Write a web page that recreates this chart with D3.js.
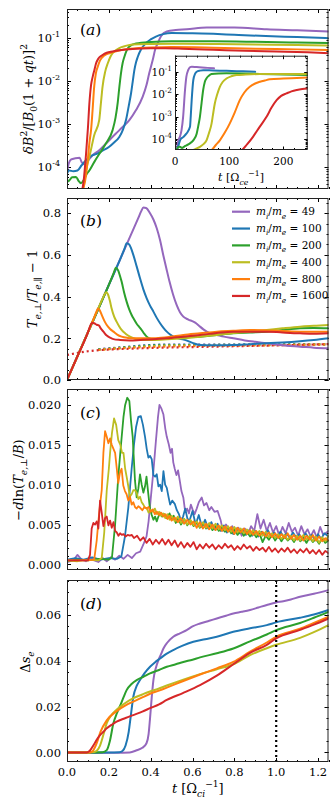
<!DOCTYPE html>
<html><head><meta charset="utf-8">
<script src="https://cdn.jsdelivr.net/npm/d3@7"></script>
<style>html,body{margin:0;padding:0;background:#fff}svg{display:block}</style>
</head><body>
<script>
// ---------------- DATA ----------------
const seriesNames = ["49","100","200","400","800","1600"];
const seriesColors = ["#9467bd","#1f77b4","#2ca02c","#bcbd22","#ff7f0e","#d62728"];
const xTickLabels = ["0.0","0.2","0.4","0.6","0.8","1.0","1.2"];
const markerT = 1.0;

// panel (a): deltaB^2 vs t [Omega_ci^-1]
const a_49 = [[0,8e-5],[0.008,1.2e-4],[0.02,1.5e-4],[0.04,1.6e-4],[0.06,1.65e-4],[0.07,1.3e-4],[0.085,1.15e-4],[0.1,1.4e-4],[0.123,1.9e-4],[0.154,2.45e-4],[0.186,3.5e-4],[0.21,4.6e-4],[0.234,6.0e-4],[0.266,8.5e-4],[0.298,1.23e-3],[0.33,2.1e-3],[0.362,4.3e-3],[0.38,8e-3],[0.393,0.015],[0.41,0.031],[0.422,0.055],[0.434,0.076],[0.45,0.11],[0.477,0.141],[0.52,0.152],[0.572,0.158],[0.668,0.174],[0.8,0.174],[0.955,0.158],[1.1,0.150],[1.25,0.141]];
const a_100 = [[0,7e-5],[0.01,8.3e-5],[0.03,8e-5],[0.05,8.3e-5],[0.07,1.1e-4],[0.091,1.45e-4],[0.115,1.8e-4],[0.139,2.0e-4],[0.17,2.4e-4],[0.202,2.95e-4],[0.225,3.7e-4],[0.25,5e-4],[0.268,7.5e-4],[0.282,1.23e-3],[0.295,2.6e-3],[0.306,5.1e-3],[0.314,0.0095],[0.322,0.0178],[0.33,0.027],[0.338,0.036],[0.355,0.055],[0.378,0.076],[0.4,0.092],[0.425,0.107],[0.46,0.122],[0.5,0.129],[0.6,0.128],[0.7,0.124],[0.8,0.118],[0.95,0.110],[1.1,0.104],[1.25,0.098]];
const a_200 = [[0,4.5e-5],[0.011,4.9e-5],[0.025,5.8e-5],[0.043,5.9e-5],[0.055,4.8e-5],[0.067,4.2e-5],[0.08,5e-5],[0.095,7e-5],[0.107,8.3e-5],[0.13,1.3e-4],[0.154,2.0e-4],[0.186,3.5e-4],[0.218,7.2e-4],[0.232,1.4e-3],[0.242,3.0e-3],[0.25,7e-3],[0.258,0.015],[0.266,0.026],[0.274,0.036],[0.286,0.052],[0.298,0.063],[0.33,0.074],[0.4,0.080],[0.5,0.083],[0.7,0.083],[0.9,0.081],[1.1,0.078],[1.25,0.076]];
const a_400 = [[0.06,2.6e-5],[0.075,3e-5],[0.09,8e-5],[0.11,2.0e-4],[0.13,5.5e-4],[0.154,1.23e-3],[0.162,3e-3],[0.17,7.4e-3],[0.182,0.016],[0.195,0.0257],[0.207,0.036],[0.218,0.044],[0.235,0.052],[0.25,0.058],[0.28,0.065],[0.314,0.070],[0.4,0.072],[0.5,0.073],[0.7,0.072],[0.9,0.070],[1.1,0.068],[1.25,0.066]];
const a_800 = [[0.07,2.5e-5],[0.09,6e-5],[0.1,1.6e-4],[0.108,4e-4],[0.115,7.2e-4],[0.122,2.0e-3],[0.13,7.4e-3],[0.138,0.015],[0.147,0.0214],[0.158,0.030],[0.17,0.036],[0.185,0.041],[0.202,0.044],[0.25,0.051],[0.3,0.056],[0.4,0.060],[0.5,0.061],[0.7,0.059],[0.9,0.056],[1.1,0.054],[1.25,0.052]];
const a_1600 = [[0.07,2.5e-5],[0.08,5e-5],[0.091,2.0e-4],[0.1,8e-4],[0.107,3.0e-3],[0.115,8e-3],[0.123,0.0126],[0.131,0.018],[0.139,0.0257],[0.15,0.033],[0.17,0.040],[0.19,0.045],[0.218,0.048],[0.26,0.052],[0.314,0.055],[0.4,0.057],[0.47,0.057],[0.55,0.056],[0.7,0.053],[0.85,0.050],[1.0,0.048],[1.15,0.046],[1.25,0.044]];

// inset: deltaB^2 vs t [Omega_ce^-1]
const i_49 = [[0,3.3e-5],[3,3.5e-5],[6,9e-5],[9,1.3e-4],[12,2.5e-4],[15,1e-3],[18.5,0.0155],[21,0.06],[24.5,0.12],[28,0.16],[31,0.166],[40,0.16],[50,0.155],[60,0.148],[72,0.141]];
const i_100 = [[3,3.3e-5],[6,5e-5],[10,1e-4],[15,1.26e-4],[21,1.8e-4],[27.7,3.6e-4],[29,1e-3],[30.8,5.5e-3],[33.8,0.043],[37,0.08],[40,0.1],[46,0.112],[52,0.117],[70,0.113],[95,0.11],[120,0.105],[148,0.1]];
const i_200 = [[1,3.3e-5],[3,3.5e-5],[6,4.5e-5],[9,4.7e-5],[13,4.2e-5],[17,4.8e-5],[21.5,5.5e-5],[27,6.5e-5],[33.8,9.1e-5],[40,1.8e-4],[43,4e-4],[46,1e-3],[49,4e-3],[52,0.0155],[55,0.035],[58,0.05],[62,0.065],[67.5,0.079],[80,0.084],[95,0.085],[125,0.083],[157,0.079],[200,0.075],[245,0.071]];
const i_400 = [[28,3.3e-5],[31,3.3e-5],[40,4e-5],[46,4.7e-5],[52,6e-5],[58.2,9.1e-5],[63,2e-4],[67.5,5e-4],[70,1.2e-3],[73.6,4e-3],[78,0.01],[82.8,0.0214],[88,0.035],[95,0.05],[104,0.063],[113.5,0.071],[130,0.075],[157,0.079],[200,0.080],[245,0.079]];
const i_800 = [[65,3.0e-5],[67.5,3.3e-5],[75,5.5e-5],[82.8,9.1e-5],[92,2e-4],[101,5e-4],[110,1.5e-3],[119.6,5.5e-3],[128,0.012],[138,0.0214],[148,0.030],[157,0.036],[166,0.041],[175,0.046],[200,0.050],[225,0.053],[245,0.056]];
const i_1600 = [[120,3.0e-5],[123,3.3e-5],[133,6e-5],[144,1.3e-4],[156,3.5e-4],[169,1e-3],[178,2.5e-3],[187.6,5.5e-3],[196,8.5e-3],[206,0.011],[215,0.0135],[225,0.0155],[235,0.017],[245,0.018]];

// panel (b): anisotropy (solid) and threshold (dotted)
const b_49 = [[0,0],[0.1,0.228],[0.2,0.456],[0.3,0.684],[0.34,0.775],[0.355,0.81],[0.365,0.827],[0.378,0.825],[0.397,0.80],[0.413,0.77],[0.429,0.728],[0.445,0.67],[0.46,0.60],[0.475,0.535],[0.49,0.472],[0.507,0.41],[0.524,0.36],[0.54,0.325],[0.556,0.304],[0.58,0.29],[0.604,0.28],[0.62,0.27],[0.636,0.256],[0.652,0.243],[0.668,0.232],[0.69,0.222],[0.716,0.216],[0.75,0.208],[0.795,0.20],[0.85,0.19],[0.9,0.183],[0.955,0.176],[1.0,0.17],[1.05,0.164],[1.114,0.16],[1.18,0.155],[1.25,0.152]];
const b_100 = [[0,0],[0.1,0.228],[0.2,0.456],[0.26,0.593],[0.275,0.63],[0.285,0.656],[0.295,0.652],[0.305,0.635],[0.317,0.60],[0.333,0.545],[0.349,0.488],[0.365,0.435],[0.381,0.392],[0.397,0.357],[0.413,0.328],[0.429,0.298],[0.445,0.272],[0.461,0.25],[0.477,0.232],[0.493,0.218],[0.508,0.208],[0.54,0.198],[0.57,0.19],[0.6,0.178],[0.636,0.168],[0.7,0.167],[0.795,0.168],[0.875,0.172],[0.955,0.176],[1.03,0.18],[1.114,0.186],[1.18,0.192],[1.25,0.20]];
const b_200 = [[0,0],[0.1,0.228],[0.2,0.456],[0.222,0.51],[0.234,0.539],[0.245,0.525],[0.253,0.50],[0.261,0.472],[0.273,0.42],[0.285,0.376],[0.297,0.34],[0.309,0.312],[0.321,0.29],[0.333,0.27],[0.345,0.255],[0.357,0.24],[0.369,0.222],[0.381,0.208],[0.397,0.198],[0.413,0.194],[0.445,0.198],[0.477,0.20],[0.55,0.204],[0.636,0.208],[0.716,0.216],[0.795,0.224],[0.875,0.228],[0.955,0.232],[1.03,0.24],[1.114,0.248],[1.18,0.25],[1.25,0.248]];
const b_400 = [[0,0],[0.1,0.228],[0.17,0.39],[0.18,0.412],[0.188,0.421],[0.196,0.41],[0.205,0.38],[0.213,0.344],[0.225,0.305],[0.237,0.28],[0.249,0.258],[0.261,0.24],[0.28,0.222],[0.301,0.208],[0.325,0.198],[0.35,0.192],[0.413,0.192],[0.48,0.195],[0.556,0.20],[0.636,0.208],[0.716,0.216],[0.795,0.225],[0.875,0.232],[0.955,0.24],[1.03,0.248],[1.114,0.256],[1.18,0.26],[1.25,0.264]];
const b_800 = [[0,0],[0.1,0.228],[0.13,0.30],[0.14,0.325],[0.148,0.343],[0.156,0.335],[0.166,0.312],[0.178,0.285],[0.19,0.264],[0.206,0.245],[0.222,0.232],[0.24,0.218],[0.261,0.208],[0.29,0.202],[0.317,0.20],[0.413,0.20],[0.477,0.205],[0.556,0.216],[0.636,0.224],[0.716,0.232],[0.795,0.236],[0.875,0.24],[0.955,0.238],[1.03,0.235],[1.114,0.232],[1.18,0.232],[1.25,0.232]];
const b_1600 = [[0,0],[0.05,0.114],[0.1,0.228],[0.112,0.262],[0.12,0.275],[0.13,0.272],[0.142,0.265],[0.152,0.262],[0.163,0.245],[0.174,0.232],[0.19,0.213],[0.206,0.203],[0.222,0.196],[0.254,0.192],[0.3,0.19],[0.35,0.192],[0.413,0.195],[0.477,0.20],[0.556,0.208],[0.636,0.216],[0.716,0.225],[0.795,0.232],[0.875,0.232],[0.955,0.232],[1.03,0.228],[1.114,0.224],[1.18,0.222],[1.25,0.224]];
const bd_49 = [[0.15,0.148],[0.2,0.152],[0.3,0.16],[0.4,0.168],[0.5,0.17],[0.7,0.17],[1.0,0.17],[1.25,0.172]];
const bd_100 = [[0.15,0.147],[0.2,0.151],[0.3,0.159],[0.4,0.167],[0.5,0.169],[0.7,0.169],[1.0,0.17],[1.25,0.172]];
const bd_200 = [[0.15,0.146],[0.2,0.15],[0.3,0.158],[0.4,0.165],[0.5,0.167],[0.7,0.168],[1.0,0.169],[1.25,0.171]];
const bd_400 = [[0.15,0.145],[0.2,0.149],[0.3,0.156],[0.4,0.162],[0.5,0.165],[0.7,0.166],[1.0,0.168],[1.25,0.171]];
const bd_800 = [[0.15,0.144],[0.2,0.148],[0.3,0.154],[0.4,0.158],[0.5,0.161],[0.7,0.164],[1.0,0.167],[1.25,0.171]];
const bd_1600 = [[0,0.12],[0.1,0.138],[0.2,0.146],[0.3,0.150],[0.45,0.155],[0.6,0.158],[0.8,0.162],[1.0,0.166],[1.25,0.172]];

// panel (c): -dln(T_perp/B)
const c_49 = [[0,0.0003],[0.03,0.0005],[0.05,0.0012],[0.07,0.0006],[0.09,0.0004],[0.11,0.0009],[0.13,0.0005],[0.15,0.0003],[0.17,0.0008],[0.19,0.0004],[0.21,0.0009],[0.23,0.0006],[0.25,0.0011],[0.27,0.0007],[0.29,0.0012],[0.31,0.0008],[0.33,0.0014],[0.35,0.0016],[0.365,0.0025],[0.38,0.0035],[0.39,0.0054],[0.403,0.009],[0.413,0.0117],[0.425,0.0155],[0.435,0.0185],[0.442,0.0200],[0.452,0.0195],[0.461,0.0188],[0.47,0.017],[0.477,0.016],[0.487,0.015],[0.495,0.014],[0.502,0.0145],[0.508,0.0128],[0.515,0.012],[0.523,0.0112],[0.531,0.0118],[0.539,0.0105],[0.547,0.0092],[0.556,0.0084],[0.565,0.0066],[0.574,0.007],[0.583,0.0064],[0.592,0.0075],[0.6,0.0069],[0.61,0.0063],[0.62,0.007],[0.63,0.0078],[0.644,0.0084],[0.655,0.0074],[0.667,0.0077],[0.68,0.0068],[0.69,0.0072],[0.705,0.0066],[0.72,0.0067],[0.735,0.0055],[0.745,0.0042],[0.76,0.005],[0.775,0.0044],[0.79,0.0048],[0.805,0.004],[0.82,0.0046],[0.835,0.0036],[0.85,0.0045],[0.865,0.0038],[0.88,0.0048],[0.895,0.0042],[0.91,0.0063],[0.925,0.0045],[0.94,0.0056],[0.955,0.0042],[0.97,0.0052],[0.985,0.004],[1.0,0.0048],[1.015,0.0036],[1.03,0.0047],[1.045,0.0039],[1.06,0.0052],[1.075,0.0041],[1.09,0.0046],[1.105,0.0036],[1.12,0.0048],[1.135,0.0038],[1.15,0.0044],[1.165,0.0035],[1.18,0.0043],[1.195,0.0033],[1.21,0.0047],[1.225,0.0037],[1.25,0.0042]];
const c_100 = [[0,0.0006],[0.04,0.0008],[0.08,0.0006],[0.12,0.0009],[0.16,0.0006],[0.2,0.0008],[0.24,0.0007],[0.26,0.001],[0.277,0.0035],[0.293,0.0071],[0.309,0.012],[0.32,0.015],[0.33,0.0172],[0.341,0.0185],[0.353,0.0186],[0.363,0.0175],[0.373,0.016],[0.381,0.0145],[0.389,0.0134],[0.397,0.0136],[0.405,0.0132],[0.413,0.0112],[0.421,0.011],[0.429,0.0113],[0.437,0.0098],[0.445,0.01],[0.453,0.0092],[0.461,0.0117],[0.469,0.01],[0.477,0.0096],[0.485,0.0085],[0.493,0.0075],[0.503,0.008],[0.515,0.0076],[0.525,0.0068],[0.535,0.0063],[0.545,0.0055],[0.555,0.006],[0.565,0.007],[0.575,0.0058],[0.585,0.0054],[0.6,0.0067],[0.615,0.005],[0.63,0.0062],[0.645,0.0047],[0.66,0.0056],[0.675,0.0045],[0.69,0.0053],[0.705,0.0044],[0.72,0.0051],[0.735,0.0042],[0.75,0.0049],[0.765,0.004],[0.78,0.0046],[0.795,0.0038],[0.81,0.0045],[0.825,0.0039],[0.84,0.0044],[0.855,0.0037],[0.87,0.0043],[0.885,0.0036],[0.9,0.0042],[0.915,0.0035],[0.93,0.0041],[0.945,0.0036],[0.96,0.0043],[0.975,0.0035],[0.99,0.004],[1.005,0.0034],[1.02,0.0041],[1.035,0.0035],[1.05,0.0039],[1.065,0.0033],[1.08,0.004],[1.095,0.0034],[1.11,0.0038],[1.125,0.0032],[1.14,0.0039],[1.155,0.0033],[1.17,0.0037],[1.185,0.0031],[1.2,0.0038],[1.215,0.0032],[1.23,0.0039],[1.25,0.0035]];
const c_200 = [[0,0.0004],[0.05,0.0006],[0.1,0.0005],[0.15,0.0007],[0.2,0.0006],[0.215,0.0009],[0.23,0.005],[0.245,0.011],[0.258,0.015],[0.27,0.0185],[0.278,0.02],[0.288,0.0209],[0.298,0.0205],[0.306,0.018],[0.314,0.016],[0.32,0.013],[0.325,0.0105],[0.333,0.0084],[0.341,0.0095],[0.349,0.0113],[0.357,0.01],[0.365,0.009],[0.373,0.0098],[0.38,0.011],[0.388,0.009],[0.396,0.0071],[0.405,0.0062],[0.413,0.0056],[0.421,0.006],[0.429,0.0054],[0.437,0.006],[0.445,0.0065],[0.455,0.006],[0.465,0.0063],[0.477,0.0058],[0.49,0.0064],[0.5,0.0056],[0.51,0.0061],[0.52,0.0052],[0.53,0.0058],[0.545,0.005],[0.56,0.0057],[0.575,0.0049],[0.59,0.0055],[0.605,0.0048],[0.62,0.0053],[0.635,0.0046],[0.65,0.0052],[0.665,0.0045],[0.68,0.005],[0.695,0.0043],[0.71,0.0049],[0.725,0.0042],[0.74,0.0047],[0.755,0.0041],[0.77,0.0046],[0.785,0.0039],[0.8,0.0044],[0.815,0.0037],[0.83,0.0043],[0.845,0.0036],[0.86,0.0041],[0.875,0.0035],[0.89,0.004],[0.905,0.0034],[0.92,0.0039],[0.935,0.0028],[0.95,0.0036],[0.965,0.0031],[0.98,0.0037],[0.995,0.003],[1.01,0.0036],[1.025,0.0029],[1.04,0.0035],[1.055,0.003],[1.07,0.0034],[1.085,0.0028],[1.1,0.0035],[1.115,0.0029],[1.13,0.0033],[1.145,0.0027],[1.16,0.0034],[1.175,0.0028],[1.19,0.0032],[1.205,0.0026],[1.22,0.0033],[1.235,0.0027],[1.25,0.003]];
const c_400 = [[0,0.0005],[0.05,0.0004],[0.1,0.0006],[0.15,0.0005],[0.166,0.0008],[0.178,0.004],[0.19,0.0093],[0.2,0.012],[0.206,0.014],[0.215,0.0165],[0.225,0.0183],[0.235,0.0175],[0.245,0.0156],[0.255,0.015],[0.263,0.014],[0.27,0.014],[0.278,0.012],[0.285,0.011],[0.293,0.0098],[0.3,0.0085],[0.309,0.0088],[0.317,0.0093],[0.325,0.0093],[0.333,0.009],[0.341,0.0082],[0.349,0.0085],[0.357,0.0078],[0.365,0.0075],[0.373,0.0071],[0.381,0.0071],[0.39,0.0065],[0.4,0.0068],[0.41,0.0066],[0.42,0.007],[0.43,0.0063],[0.44,0.0066],[0.45,0.0061],[0.46,0.0064],[0.47,0.0058],[0.48,0.0063],[0.49,0.0056],[0.5,0.0061],[0.515,0.0054],[0.53,0.006],[0.545,0.0052],[0.56,0.0057],[0.575,0.005],[0.59,0.0056],[0.605,0.0049],[0.62,0.0054],[0.635,0.0047],[0.65,0.0053],[0.665,0.0046],[0.68,0.0052],[0.695,0.0045],[0.71,0.0051],[0.725,0.0044],[0.74,0.0049],[0.755,0.0043],[0.77,0.0048],[0.785,0.0041],[0.8,0.0047],[0.815,0.004],[0.83,0.0045],[0.845,0.0039],[0.86,0.0044],[0.875,0.0038],[0.89,0.0043],[0.905,0.0037],[0.92,0.0042],[0.935,0.0036],[0.95,0.0041],[0.965,0.0034],[0.98,0.0039],[0.995,0.0033],[1.01,0.0038],[1.025,0.0032],[1.04,0.0037],[1.055,0.0031],[1.07,0.0036],[1.085,0.003],[1.1,0.0036],[1.115,0.003],[1.13,0.0037],[1.145,0.0031],[1.16,0.0036],[1.175,0.0029],[1.19,0.0035],[1.205,0.0027],[1.22,0.0034],[1.235,0.0029],[1.25,0.0036]];
const c_800 = [[0,0.0005],[0.05,0.0005],[0.1,0.0005],[0.13,0.0006],[0.142,0.003],[0.15,0.0054],[0.158,0.0075],[0.166,0.0093],[0.174,0.014],[0.182,0.0167],[0.19,0.016],[0.198,0.0152],[0.206,0.0158],[0.214,0.015],[0.222,0.0145],[0.23,0.014],[0.238,0.012],[0.245,0.0102],[0.253,0.0115],[0.261,0.012],[0.269,0.0099],[0.277,0.0092],[0.285,0.0088],[0.293,0.008],[0.301,0.0085],[0.309,0.0075],[0.317,0.0078],[0.325,0.0072],[0.333,0.007],[0.341,0.0073],[0.35,0.0071],[0.36,0.0068],[0.37,0.0072],[0.38,0.007],[0.39,0.0072],[0.4,0.0066],[0.41,0.0069],[0.42,0.0063],[0.43,0.0066],[0.44,0.0062],[0.45,0.0065],[0.46,0.006],[0.47,0.0063],[0.48,0.0057],[0.49,0.0061],[0.5,0.0055],[0.515,0.0059],[0.53,0.0053],[0.545,0.0058],[0.56,0.0051],[0.575,0.0056],[0.59,0.005],[0.605,0.0054],[0.62,0.0046],[0.635,0.0053],[0.65,0.0045],[0.665,0.0051],[0.68,0.0044],[0.695,0.005],[0.71,0.0043],[0.725,0.0049],[0.74,0.0042],[0.755,0.0048],[0.77,0.0041],[0.785,0.0047],[0.8,0.0038],[0.815,0.0046],[0.83,0.004],[0.845,0.0045],[0.86,0.0038],[0.875,0.0043],[0.89,0.0037],[0.905,0.0042],[0.92,0.0036],[0.935,0.0041],[0.95,0.0035],[0.965,0.004],[0.98,0.0034],[0.995,0.0039],[1.01,0.0033],[1.025,0.0038],[1.04,0.0033],[1.055,0.0039],[1.07,0.0032],[1.085,0.0037],[1.1,0.0031],[1.115,0.0036],[1.13,0.003],[1.145,0.0036],[1.16,0.0031],[1.175,0.0037],[1.19,0.003],[1.205,0.0035],[1.22,0.0029],[1.235,0.0033],[1.25,0.003]];
const c_1600 = [[0,0.0005],[0.05,0.0005],[0.1,0.0005],[0.11,0.0012],[0.118,0.0045],[0.126,0.0052],[0.134,0.005],[0.142,0.0054],[0.15,0.0045],[0.158,0.008],[0.166,0.0065],[0.174,0.0048],[0.182,0.0058],[0.19,0.006],[0.198,0.0049],[0.206,0.0055],[0.214,0.0046],[0.222,0.0053],[0.23,0.0042],[0.238,0.004],[0.246,0.0036],[0.254,0.0039],[0.262,0.0037],[0.27,0.0038],[0.28,0.0035],[0.29,0.0037],[0.3,0.0036],[0.31,0.0037],[0.32,0.0033],[0.335,0.0036],[0.35,0.003],[0.365,0.0034],[0.38,0.0027],[0.395,0.0032],[0.41,0.0025],[0.425,0.0031],[0.44,0.0026],[0.455,0.0032],[0.47,0.0025],[0.485,0.0031],[0.5,0.0024],[0.515,0.003],[0.53,0.0022],[0.545,0.0028],[0.56,0.0021],[0.575,0.0027],[0.59,0.0022],[0.605,0.0028],[0.62,0.0019],[0.635,0.0025],[0.65,0.002],[0.665,0.0026],[0.68,0.0021],[0.695,0.0025],[0.71,0.0019],[0.725,0.0024],[0.74,0.002],[0.755,0.0026],[0.77,0.0021],[0.785,0.0024],[0.8,0.0018],[0.815,0.0023],[0.83,0.0019],[0.845,0.0025],[0.86,0.002],[0.875,0.0023],[0.89,0.0017],[0.905,0.0022],[0.92,0.0018],[0.935,0.0021],[0.95,0.0016],[0.965,0.0022],[0.98,0.0016],[0.995,0.002],[1.01,0.0015],[1.025,0.002],[1.04,0.0016],[1.055,0.0021],[1.07,0.0015],[1.085,0.0019],[1.1,0.0014],[1.115,0.0019],[1.13,0.0015],[1.145,0.002],[1.16,0.0014],[1.175,0.0018],[1.19,0.0013],[1.205,0.0018],[1.22,0.0012],[1.235,0.0017],[1.25,0.0014]];

// panel (d): entropy change
const d_49 = [[0,-0.0003],[0.1,-0.0003],[0.2,-0.0002],[0.3,0.0],[0.33,0.0008],[0.36,0.002],[0.38,0.004],[0.39,0.008],[0.397,0.015],[0.405,0.024],[0.413,0.0316],[0.425,0.037],[0.437,0.0403],[0.45,0.043],[0.461,0.0454],[0.48,0.048],[0.508,0.0505],[0.54,0.052],[0.572,0.0534],[0.6,0.055],[0.636,0.0563],[0.68,0.0575],[0.716,0.0585],[0.76,0.0597],[0.795,0.0607],[0.835,0.0614],[0.875,0.0622],[0.915,0.0633],[0.955,0.0644],[1.0,0.0655],[1.034,0.066],[1.07,0.0668],[1.114,0.068],[1.18,0.0693],[1.25,0.0709]];
const d_100 = [[0,0],[0.1,0],[0.2,0],[0.25,0.0001],[0.265,0.0006],[0.28,0.003],[0.295,0.009],[0.305,0.016],[0.317,0.0243],[0.333,0.029],[0.349,0.0316],[0.37,0.0345],[0.397,0.0374],[0.42,0.0393],[0.445,0.041],[0.475,0.043],[0.508,0.0447],[0.55,0.0465],[0.604,0.0483],[0.66,0.0494],[0.716,0.0505],[0.795,0.0527],[0.875,0.0542],[0.955,0.0556],[1.0,0.0568],[1.114,0.0588],[1.18,0.0602],[1.25,0.0622]];
const d_200 = [[0,0],[0.1,0],[0.17,0.0001],[0.19,0.001],[0.205,0.005],[0.222,0.0128],[0.238,0.017],[0.254,0.0204],[0.27,0.024],[0.285,0.0272],[0.31,0.03],[0.333,0.0316],[0.365,0.033],[0.397,0.0345],[0.44,0.036],[0.477,0.0374],[0.52,0.0385],[0.556,0.0395],[0.6,0.0405],[0.636,0.0415],[0.716,0.0433],[0.795,0.0454],[0.875,0.0485],[0.955,0.0515],[1.0,0.0534],[1.114,0.0565],[1.18,0.0588],[1.25,0.0614]];
const d_400 = [[0,0],[0.1,0],[0.13,0.0002],[0.145,0.001],[0.158,0.003],[0.175,0.008],[0.19,0.0128],[0.21,0.016],[0.237,0.0186],[0.27,0.021],[0.317,0.0237],[0.36,0.0253],[0.397,0.0266],[0.44,0.0279],[0.477,0.0292],[0.556,0.0318],[0.636,0.0342],[0.716,0.0363],[0.795,0.0385],[0.875,0.0425],[0.955,0.0455],[1.0,0.047],[1.114,0.050],[1.18,0.0525],[1.25,0.0556]];
const d_800 = [[0,0],[0.11,0],[0.125,0.0008],[0.142,0.004],[0.16,0.009],[0.19,0.014],[0.237,0.018],[0.28,0.0205],[0.317,0.0222],[0.36,0.024],[0.397,0.0256],[0.44,0.027],[0.477,0.0283],[0.556,0.0312],[0.636,0.034],[0.716,0.0367],[0.795,0.0395],[0.875,0.044],[0.955,0.048],[1.0,0.0505],[1.114,0.054],[1.18,0.0565],[1.25,0.0592]];
const d_1600 = [[0,0],[0.095,0],[0.11,0.0008],[0.126,0.003],[0.142,0.0055],[0.158,0.0075],[0.174,0.009],[0.19,0.0105],[0.213,0.012],[0.237,0.0134],[0.28,0.015],[0.317,0.0163],[0.36,0.0178],[0.397,0.0193],[0.44,0.021],[0.477,0.0229],[0.556,0.026],[0.636,0.0294],[0.716,0.0335],[0.795,0.0385],[0.875,0.0435],[0.955,0.047],[1.0,0.0498],[1.114,0.0535],[1.18,0.0558],[1.25,0.0585]];

const panelA = [a_49,a_100,a_200,a_400,a_800,a_1600];
const inset = [i_49,i_100,i_200,i_400,i_800,i_1600];
const panelB = [b_49,b_100,b_200,b_400,b_800,b_1600];
const panelBdot = [bd_49,bd_100,bd_200,bd_400,bd_800,bd_1600];
const panelC = [c_49,c_100,c_200,c_400,c_800,c_1600];
const panelD = [d_49,d_100,d_200,d_400,d_800,d_1600];

// ---------------- DRAW ----------------
const W = 332, H = 802;
const FONT = "'DejaVu Serif', 'Liberation Serif', serif";
const TFS = 11.5;
const svg = d3.select("body").append("svg").attr("width", W).attr("height", H)
  .style("font-family", FONT);
const defs = svg.append("defs");

const X0 = 67, X1 = 328.5;
const x = d3.scaleLinear().domain([0, 1.25]).range([X0, X1]);

function rich(text, parts, fs) {
  let shift = 0;
  parts.forEach(p => {
    const ts = text.append("tspan").text(p.t);
    const target = p.sub ? fs * 0.32 : (p.sup ? -fs * 0.45 : 0);
    if (target - shift !== 0) ts.attr("dy", target - shift);
    shift = target;
    ts.attr("font-size", (p.sub || p.sup) ? fs * 0.7 : fs);
    if (p.i) ts.attr("font-style", "italic");
  });
}

function clip(id, x0, y0, w, h) {
  defs.append("clipPath").attr("id", id).append("rect")
    .attr("x", x0).attr("y", y0).attr("width", w).attr("height", h);
}

function ticksY(g, y, vals, len, xl, xr) {
  vals.forEach(v => {
    const yy = Math.round(y(v)) + 0.5;
    g.append("line").attr("x1", xl).attr("x2", xl + len).attr("y1", yy).attr("y2", yy);
    g.append("line").attr("x1", xr).attr("x2", xr - len).attr("y1", yy).attr("y2", yy);
  });
}
function ticksX(g, xs, vals, len, yt, yb) {
  vals.forEach(v => {
    const xx = Math.round(xs(v)) + 0.5;
    g.append("line").attr("x1", xx).attr("x2", xx).attr("y1", yb).attr("y2", yb - len);
    g.append("line").attr("x1", xx).attr("x2", xx).attr("y1", yt).attr("y2", yt + len);
  });
}

const xMajor = d3.range(0, 1.2001, 0.2);
const xMinor = d3.range(0, 1.2501, 0.05);

function panel(id, top, bottom, y, yMajor, yMinor, yFmt, showX) {
  const g = svg.append("g");
  clip("clip" + id, X0, top, X1 - X0, bottom - top);
  const tk = g.append("g").attr("stroke", "#000").attr("stroke-width", 1);
  ticksX(tk, x, xMajor, 4, top, bottom);
  ticksX(tk, x, xMinor, 2, top, bottom);
  ticksY(tk, y, yMajor, 4, X0, X1);
  ticksY(tk, y, yMinor, 2, X0, X1);
  if (yFmt) {
    yMajor.forEach(v => {
      g.append("text").attr("x", 61).attr("y", y(v) + 4.2)
        .attr("text-anchor", "end").attr("font-size", TFS).text(yFmt(v));
    });
  }
  if (showX) {
    xMajor.forEach((v, k) => {
      g.append("text").attr("x", x(v)).attr("y", bottom + 13.5)
        .attr("text-anchor", "middle").attr("font-size", TFS).text(xTickLabels[k]);
    });
  }
  const plot = svg.append("g").attr("clip-path", `url(#clip${id})`);
  const frame = svg.append("rect").attr("x", X0 + 0.5).attr("y", top + 0.5)
    .attr("width", X1 - X0 - 1).attr("height", bottom - top - 1)
    .attr("fill", "none").attr("stroke", "#222").attr("stroke-width", 1);
  return { g, plot, frame };
}

function drawLines(plot, data, y, curve, width, dash) {
  const line = d3.line().x(d => x(d[0])).y(d => y(d[1])).curve(curve);
  data.forEach((s, k) => {
    plot.append("path").attr("d", line(s)).attr("fill", "none")
      .attr("stroke", seriesColors[k]).attr("stroke-width", width)
      .attr("stroke-linejoin", "round").attr("stroke-linecap", dash ? "butt" : "round")
      .attr("stroke-dasharray", dash || null);
  });
}

function panelLabel(g, letter, xx, yy) {
  const t = g.append("text").attr("x", xx).attr("y", yy).attr("font-size", 15.5);
  rich(t, [{ t: "(" }, { t: letter, i: true }, { t: ")" }], 15.5);
}
function yLabel(g, parts, xx, yy, fs) {
  const t = g.append("text").attr("transform", `translate(${xx},${yy}) rotate(-90)`)
    .attr("text-anchor", "middle").attr("font-size", fs);
  rich(t, parts, fs);
}

// ---- Panel (a)
const yA = d3.scaleLog().domain([Math.pow(10, -4.51), Math.pow(10, -0.33)]).range([189, 9]);
const aMaj = [1e-4, 1e-3, 1e-2, 1e-1];
const aMin = [];
[-5, -4, -3, -2, -1].forEach(e => { for (let m = 2; m <= 9; m++) { const v = m * Math.pow(10, e); if (v > yA.domain()[0] && v < yA.domain()[1]) aMin.push(v); } });
const pA = panel("A", 9, 189, yA, aMaj, aMin, null, false);
aMaj.forEach(v => {
  const e = Math.round(Math.log10(v));
  const t = pA.g.append("text").attr("x", 60).attr("y", yA(v) + 4.2).attr("text-anchor", "end").attr("font-size", TFS);
  rich(t, [{ t: "10" }, { t: "-" + (-e), sup: true }], TFS);
});
drawLines(pA.plot, panelA, yA, d3.curveMonotoneX, 2);
panelLabel(svg, "a", 80, 35);
yLabel(svg, [{ t: "δ", i: true }, { t: "B", i: true }, { t: "2", sup: true }, { t: "/[" }, { t: "B", i: true }, { t: "0", sub: true }, { t: "(1 + " }, { t: "qt", i: true }, { t: ")]" }, { t: "2", sup: true }], 33, 99, 13);

// ---- Inset
const IX0 = 175, IX1 = 307.7, IY0 = 55.7, IY1 = 150;
const xi = d3.scaleLinear().domain([0, 245]).range([IX0, IX1]);
const yi = d3.scaleLog().domain([Math.pow(10, -4.47), Math.pow(10, -0.29)]).range([IY1, IY0]);
svg.append("rect").attr("x", IX0).attr("y", IY0).attr("width", IX1 - IX0).attr("height", IY1 - IY0).attr("fill", "#fff");
clip("clipI", IX0, IY0, IX1 - IX0, IY1 - IY0);
const ig = svg.append("g");
const itk = ig.append("g").attr("stroke", "#000").attr("stroke-width", 1);
const iMaj = [1e-4, 1e-3, 1e-2, 1e-1];
const iMin = [];
[-5, -4, -3, -2, -1].forEach(e => { for (let m = 2; m <= 9; m++) { const v = m * Math.pow(10, e); if (v > yi.domain()[0] && v < yi.domain()[1]) iMin.push(v); } });
ticksY(itk, yi, iMaj, 3.5, IX0, IX1);
ticksY(itk, yi, iMin, 2, IX0, IX1);
ticksX(itk, xi, [0, 100, 200], 3.5, IY0, IY1);
ticksX(itk, xi, d3.range(0, 241, 20), 2, IY0, IY1);
iMaj.forEach(v => {
  const e = Math.round(Math.log10(v));
  const t = ig.append("text").attr("x", 172).attr("y", yi(v) + 3.8).attr("text-anchor", "end").attr("font-size", 10.5);
  rich(t, [{ t: "10" }, { t: "-" + (-e), sup: true }], 10.5);
});
[0, 100, 200].forEach(v => {
  ig.append("text").attr("x", xi(v)).attr("y", 164.5).attr("text-anchor", "middle").attr("font-size", 10.5).text(String(v));
});
{
  const t = ig.append("text").attr("x", 241).attr("y", 181).attr("text-anchor", "middle").attr("font-size", 11);
  rich(t, [{ t: "t", i: true }, { t: " [Ω" }, { t: "ce", sub: true, i: true }, { t: "−1", sup: true }, { t: "]" }], 11);
}
const iplot = svg.append("g").attr("clip-path", "url(#clipI)");
{
  const line = d3.line().x(d => xi(d[0])).y(d => yi(d[1])).curve(d3.curveMonotoneX);
  inset.forEach((s, k) => {
    iplot.append("path").attr("d", line(s)).attr("fill", "none").attr("stroke", seriesColors[k])
      .attr("stroke-width", 2).attr("stroke-linejoin", "round").attr("stroke-linecap", "round");
  });
}
svg.append("rect").attr("x", IX0 + 0.5).attr("y", IY0 + 0.5).attr("width", IX1 - IX0 - 1).attr("height", IY1 - IY0 - 1)
  .attr("fill", "none").attr("stroke", "#222").attr("stroke-width", 1);

// ---- Panel (b)
const yB = d3.scaleLinear().domain([0, 0.873]).range([380, 198]);
const pB = panel("B", 198, 380, yB, [0, 0.2, 0.4, 0.6, 0.8], d3.range(0, 0.851, 0.05), d3.format(".1f"), false);
drawLines(pB.plot, panelBdot, yB, d3.curveMonotoneX, 2.2, "2,3");
drawLines(pB.plot, panelB, yB, d3.curveMonotoneX, 2);
panelLabel(svg, "b", 80, 226);
yLabel(svg, [{ t: "T", i: true }, { t: "e,⊥", sub: true, i: true }, { t: "/" }, { t: "T", i: true }, { t: "e,∥", sub: true, i: true }, { t: " − 1" }], 37, 289, 13);
// legend
{
  const lg = svg.append("g");
  seriesNames.forEach((nm, k) => {
    const yy = 211.7 + k * 16.85;
    lg.append("line").attr("x1", 232).attr("x2", 250).attr("y1", yy).attr("y2", yy)
      .attr("stroke", seriesColors[k]).attr("stroke-width", 2.2);
    const t = lg.append("text").attr("x", 256).attr("y", yy + 3.5).attr("font-size", 10.5);
    rich(t, [{ t: "m", i: true }, { t: "i", sub: true, i: true }, { t: "/" }, { t: "m", i: true }, { t: "e", sub: true, i: true }, { t: " = " + nm }], 10.5);
  });
}

// ---- Panel (c)
const yC = d3.scaleLinear().domain([-0.0007, 0.022]).range([570, 389]);
const pC = panel("C", 389, 570, yC, [0, 0.005, 0.01, 0.015, 0.02], d3.range(0, 0.02201, 0.001), d3.format(".3f"), false);
drawLines(pC.plot, panelC, yC, d3.curveLinear, 1.8);
panelLabel(svg, "c", 80, 418);
yLabel(svg, [{ t: "−" }, { t: "d", i: true }, { t: "ln(" }, { t: "T", i: true }, { t: "e,⊥", sub: true, i: true }, { t: "/" }, { t: "B", i: true }, { t: ")" }], 23, 480, 13);

// ---- Panel (d)
const yD = d3.scaleLinear().domain([-0.0042, 0.0753]).range([762, 580]);
const pD = panel("D", 580, 762, yD, [0, 0.02, 0.04, 0.06], d3.range(0, 0.0751, 0.005), d3.format(".2f"), true);
drawLines(pD.plot, panelD, yD, d3.curveMonotoneX, 2);
pD.plot.append("line").attr("x1", x(markerT)).attr("x2", x(markerT)).attr("y1", 580).attr("y2", 762)
  .attr("stroke", "#000").attr("stroke-width", 2.2).attr("stroke-dasharray", "2,3");
panelLabel(svg, "d", 80, 609);
yLabel(svg, [{ t: "Δ" }, { t: "s", i: true }, { t: "e", sub: true, i: true }], 30, 662, 13);
{
  const t = svg.append("text").attr("x", x(0.625)).attr("y", 793).attr("text-anchor", "middle").attr("font-size", 13);
  rich(t, [{ t: "t", i: true }, { t: " [Ω" }, { t: "ci", sub: true, i: true }, { t: "−1", sup: true }, { t: "]" }], 13);
}
</script>
</body></html>
